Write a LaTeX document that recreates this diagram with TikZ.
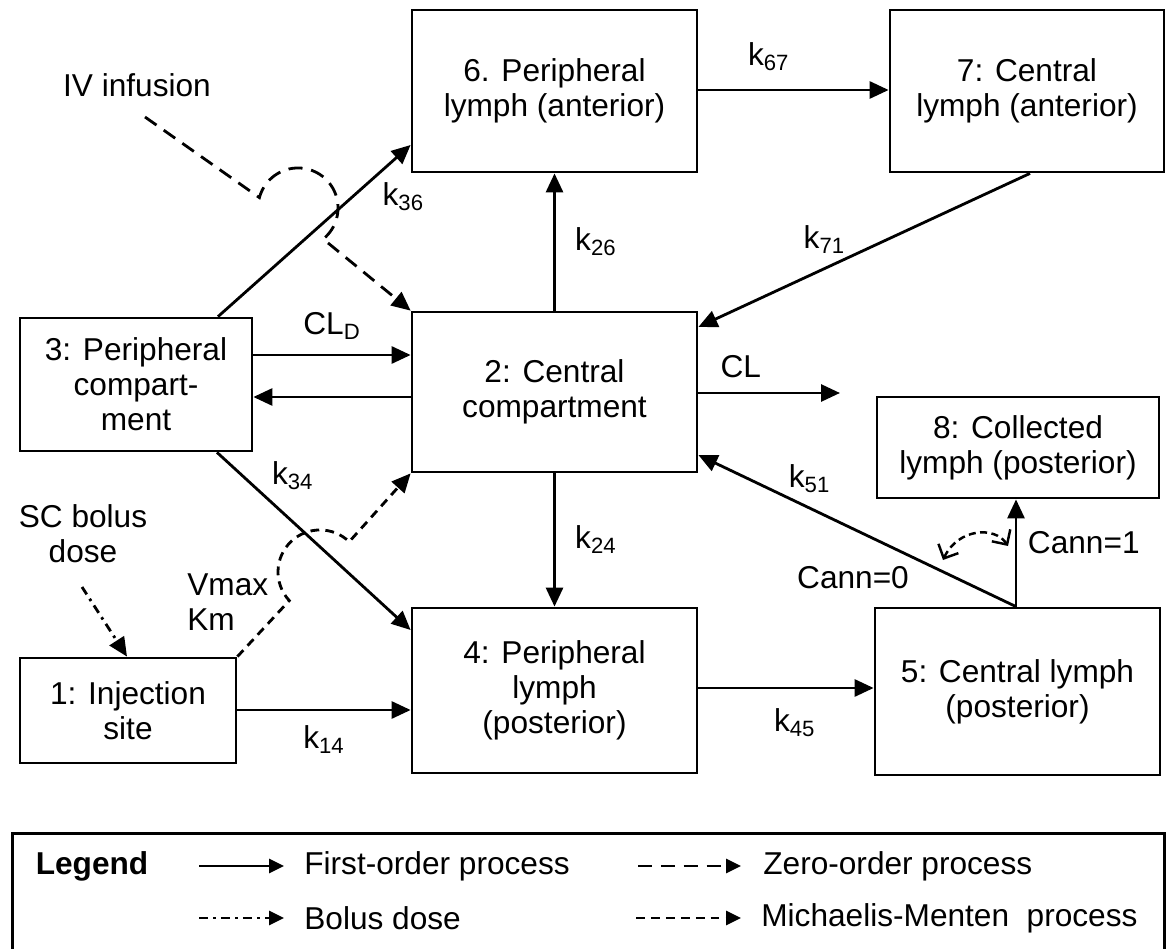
\documentclass[tikz,border=0pt]{standalone}
\usepackage{fontspec}
\setmainfont{Liberation Sans}
\usetikzlibrary{arrows.meta}
\newcommand{\krate}[1]{k\textsubscript{#1}}

\begin{document}
\begin{tikzpicture}[x=0.02cm, y=-0.02cm,
  font=\fontsize{18}{20}\selectfont,
  compartment/.style={draw, line width=1.6pt, align=center, inner sep=2pt},
  flow/.style={line width=1.6pt, -{Triangle[length=0.38cm,width=0.34cm]}},
  zeroflow/.style={flow, dash pattern=on 8pt off 5pt},
  mmflow/.style={flow, dash pattern=on 5pt off 3.5pt},
  bolusflow/.style={flow, dash pattern=on 5pt off 3pt on 1.5pt off 3pt},
  rate/.style={inner sep=2pt},
  keytext/.style={anchor=west, inner sep=0pt},
  keyflow/.style={line width=1.6pt, -{Triangle[length=0.3cm,width=0.28cm]}}]
  \useasboundingbox (0,0) rectangle (1166,949);
  \clip (0,0) rectangle (1166,949);

  \node[compartment, minimum width=5.7cm, minimum height=3.24cm] (b6) at (554.5,91) {6. Peripheral\\lymph (anterior)};
  \node[compartment, minimum width=5.48cm, minimum height=3.24cm] (b7) at (1027,91) {7: Central\\lymph (anterior)};
  \node[compartment, minimum width=4.64cm, minimum height=2.66cm] (b3) at (136,384.5) {3: Peripheral\\compart-\\ment};
  \node[compartment, minimum width=5.7cm, minimum height=3.2cm] (b2) at (554.5,392) {2: Central\\compartment};
  \node[compartment, minimum width=5.64cm, minimum height=2.02cm] (b8) at (1018,447.5) {8: Collected\\lymph (posterior)};
  \node[compartment, minimum width=4.32cm, minimum height=2.1cm] (b1) at (128,710.5) {1: Injection\\site};
  \node[compartment, minimum width=5.7cm, minimum height=3.3cm] (b4) at (554.5,690.5) {4: Peripheral\\lymph\\(posterior)};
  \node[compartment, minimum width=5.7cm, minimum height=3.34cm] (b5) at (1017.5,691.5) {5: Central lymph\\(posterior)};

  \node (iv) at (137,85) {IV infusion};
  \node[align=center] (sc) at (83,534) {SC bolus\\dose};
  \node[align=left, anchor=west, inner sep=0pt] (vm) at (187,602) {Vmax\\Km};
  \node (cann0) at (853,578) {Cann=0};

  \coordinate (ivstart) at (145,117);
  \coordinate (scstart) at (82,587);
  \coordinate (clend) at (840,393);
  \coordinate (swa) at (1008,546);
  \coordinate (swb) at (943,560);

  \draw[flow] (b6.east |- 0,90) -- (b7.west |- 0,90) node[pos=.37, above=8pt, rate] (l67) {\krate{67}};
  \draw[flow] (b2.north) -- (b6.south) node[midway, right=9pt, rate] (l26) {\krate{26}};
  \draw[flow] (b7.south -| 1030,0) -- (b2.east |- 0,327) node[pos=.62, above=6pt, rate] (l71) {\krate{71}};
  \draw[flow] (b3.east |- 0,355) -- (b2.west |- 0,355) node[midway, above=6pt, rate] (lcld) {CL\textsubscript{D}};
  \draw[flow] (b2.west |- 0,397) -- (b3.east |- 0,397);
  \draw[flow] (b2.east |- 0,393) -- (clend) node[pos=.3, above=6pt, rate] (lcl) {CL};
  \draw[flow] (b3.north -| 218,0) -- (b6.west |- 0,145) node[pos=.82, below right=1pt, rate] (l36) {\krate{36}};
  \draw[flow] (b3.south -| 217,0) -- (b4.west |- 0,630) node[pos=.25, above right=1pt, rate] (l34) {\krate{34}};
  \draw[flow] (b2.south) -- (b4.north) node[midway, right=9pt, rate] (l24) {\krate{24}};
  \draw[flow] (b1.east |- 0,710) -- (b4.west |- 0,710) node[midway, below=6pt, rate] (l14) {\krate{14}};
  \draw[flow] (b4.east |- 0,688) -- (b5.west |- 0,688) node[pos=.55, below=9pt, rate] (l45) {\krate{45}};
  \draw[flow] (b5.north -| 1016,0) -- (b2.east |- 0,455) node[pos=.65, above=6pt, rate] (l51) {\krate{51}};
  \draw[flow] (b5.north -| 1016,0) -- (b8.south -| 1016,0) node[pos=.6, right=4pt, rate] (lc1) {Cann=1};
  \draw[line width=1.4pt, dash pattern=on 4pt off 2.5pt, {Straight Barb[length=0.22cm]}-{Straight Barb[length=0.22cm]}]
    (swa) .. controls (995,526) and (958,528) .. (swb);

  \draw[zeroflow] (ivstart) -- (259.4,197.6) arc[start angle=-165, end angle=51, radius=40] -- (b2.north west);
  \draw[mmflow] (b1.north east) -- (289.3,600.6) arc[start angle=137, end angle=314, radius=42] -- (b2.south west);
  \draw[bolusflow] (scstart) -- (b1.north -| 127,0);

  \node[draw, line width=1.6pt, minimum width=23.04cm, minimum height=2.5cm, anchor=north west] (key) at (11,832) {};
  \node (keytitle) at (92,866) {\textbf{Legend}};
  \node[keytext] (t1) at (304,866) {First-order process};
  \node[keytext] (t2) at (763,866) {Zero-order process};
  \node[keytext] (t3) at (304,918) {Bolus dose};
  \node[keytext] (t4) at (761,918) {Michaelis-Menten\ \ process};
  \draw[keyflow] ([xshift=-2.1cm]t1.west) -- ([xshift=-0.4cm]t1.west);
  \draw[keyflow, dash pattern=on 8pt off 5pt] ([xshift=-2.5cm]t2.west) -- ([xshift=-0.44cm]t2.west);
  \draw[keyflow, dash pattern=on 5pt off 3pt on 1.5pt off 3pt] ([xshift=-2.1cm]t3.west) -- ([xshift=-0.4cm]t3.west);
  \draw[keyflow, dash pattern=on 5pt off 3.5pt] ([xshift=-2.5cm]t4.west) -- ([xshift=-0.4cm]t4.west);
\end{tikzpicture}
\end{document}
